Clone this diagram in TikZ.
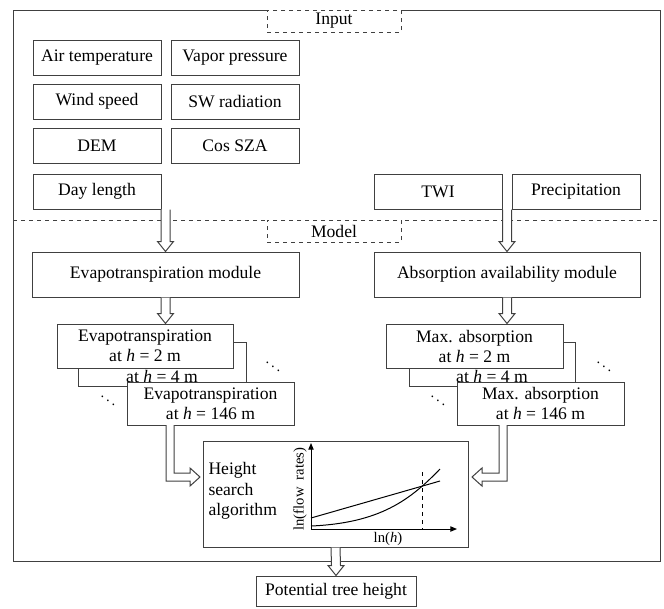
\documentclass[tikz,border=0pt]{standalone}
\usepackage{fontspec}
\setmainfont{Liberation Serif}
\usetikzlibrary{calc,arrows.meta}

\tikzset{every picture/.style={line width=0.75pt}}
\tikzset{
  inbox/.style={draw=black!75, fill=white, inner sep=0pt, minimum width=96pt, minimum height=26.25pt, font=\fontsize{13.2}{15}\selectfont},
  tagbox/.style={draw=black!75, dashed, fill=white, inner sep=0pt, minimum width=100.5pt, minimum height=16.5pt, font=\fontsize{13.2}{15}\selectfont},
  modbox/.style={draw=black!75, fill=white, inner sep=0pt, minimum height=33.75pt, font=\fontsize{13.2}{15}\selectfont},
  stackbox/.style={draw=black!75, fill=white, inner sep=0pt, align=center, minimum height=33pt, font=\fontsize{13.2}{15}\selectfont},
  stacktext/.style={inner sep=0pt, font=\fontsize{13.2}{15}\selectfont},
  blockarrow/.style={draw=black!75, fill=white, line width=0.75pt},
  dotlabel/.style={inner sep=0pt, font=\fontsize{11}{13}\selectfont\boldmath},
}
% hollow arrow pointing down, from #1 to #2 (same x)
\newcommand{\hollowdown}[2]{%
  \draw[blockarrow] ($(#1)+(-4.5,0)$) -- ($(#2)+(-4.5,-10)$) -- ($(#2)+(-8,-10)$) -- (#2) -- ($(#2)+(8,-10)$) -- ($(#2)+(4.5,-10)$) -- ($(#1)+(4.5,0)$);}

\begin{document}
\begin{tikzpicture}[x=0.75pt,y=0.75pt,yscale=-1,xscale=1]
\useasboundingbox (0,0) rectangle (664,608);

%Frame and separator
\draw[draw=black!75] (13,10) rectangle (660,561);
\draw[draw=black!75, dashed] (13,220) -- (660,220);

%Tags
\node[tagbox] (input) at (334,21) {Input};
\node[tagbox] (model) at (334,231) {Model};

%Input boxes
\node[inbox] (airt) at (97,57.5) {Air temperature};
\node[inbox] (vapp) at (235,57.5) {Vapor pressure};
\node[inbox] (wind) at (97,101.5) {Wind speed};
\node[inbox] (swrad) at (235,101.5) {SW radiation};
\node[inbox] (dem) at (97,146) {DEM};
\node[inbox] (cossza) at (235,146) {Cos SZA};
\node[inbox] (dayl) at (97,191.5) {Day length};
\node[inbox] (twi) at (438,191.5) {TWI};
\node[inbox] (prec) at (576,191.5) {Precipitation};

%Modules
\node[modbox, minimum width=200.25pt] (evap) at (165.5,274.5) {Evapotranspiration module};
\node[modbox, minimum width=199.5pt] (absorb) at (507,274.5) {Absorption availability module};

%Evapotranspiration stack
\node[stackbox, minimum width=126pt] (e2) at (162,364) {};
\node[stacktext] (e2txt) at (162,376) {at \textit{h} = 4 m};
\node[stackbox, minimum width=125.25pt, minimum height=32.25pt] (e3) at (210.5,403.5) {Evapotranspiration\\at \textit{h} = 146 m};
\node[stackbox, minimum width=132pt] (e1) at (145,346) {Evapotranspiration\\at \textit{h} = 2 m};
\node[dotlabel] (edots1) at (273,363) {$\ddots$};
\node[dotlabel] (edots2) at (108,397) {$\ddots$};

%Absorption stack
\node[stackbox, minimum width=124.5pt] (a2) at (492,364) {};
\node[stacktext] (a2txt) at (492,376) {at \textit{h} = 4 m};
\node[stackbox, minimum width=125.25pt, minimum height=32.25pt] (a3) at (540.5,403.5) {Max. absorption\\at \textit{h} = 146 m};
\node[stackbox, minimum width=132.75pt] (a1) at (474.5,346) {Max. absorption\\at \textit{h} = 2 m};
\node[dotlabel] (adots1) at (604,363) {$\ddots$};
\node[dotlabel] (adots2) at (438,397) {$\ddots$};

%Search box
\node[draw=black!75, fill=white, minimum width=198.75pt, minimum height=79.5pt, inner sep=0pt] (search) at (335.5,494) {};
\node[anchor=west, align=left, inner sep=0pt, font=\fontsize{13.2}{15.5}\selectfont] (searchtxt) at (208,491) {Height\\search\\algorithm};

%Graph
\coordinate (orig) at (311,529);
\coordinate (xend) at (457,529);
\coordinate (yend) at (311,443);
\draw[-{Triangle[length=5pt,width=4pt]}] (orig) -- (xend);
\draw[-{Triangle[length=5pt,width=4pt]}] (orig) -- (yend);
\draw (311,518) -- (440,481);
\draw (311,526) .. controls (380,523) and (410,500) .. (440,469);
\draw[dashed] (422,472) -- (422,529);
\node[rotate=90, inner sep=0pt, font=\fontsize{11}{13}\selectfont] (ylab) at (300,489) {ln(flow\ \ rates)};
\node[inner sep=0pt, font=\fontsize{11}{13}\selectfont] (xlab) at (388,539) {ln(\textit{h})};

%Output
\node[inbox, minimum width=120pt, minimum height=22.5pt] (pot) at (336,591) {Potential tree height};

%Arrows
\hollowdown{evap.north |- dayl.south}{evap.north}
\hollowdown{absorb.north |- twi.south}{absorb.north}
\hollowdown{evap.south}{evap.south |- e1.north}
\hollowdown{absorb.south}{absorb.south |- a1.north}
\hollowdown{search.south}{pot.north}

\coordinate (lstart) at (170,425);
\coordinate (ltip) at (200,477);
\draw[blockarrow] ($(lstart)+(-4,0)$) |- ($(ltip)+(-10,4)$) -- ($(ltip)+(-10,9)$) -- (ltip) -- ($(ltip)+(-10,-9)$) -- ($(ltip)+(-10,-4)$) -| ($(lstart)+(4,0)$);
\coordinate (rstart) at (503,425);
\coordinate (rtip) at (472,477);
\draw[blockarrow] ($(rstart)+(4,0)$) |- ($(rtip)+(10,4)$) -- ($(rtip)+(10,9)$) -- (rtip) -- ($(rtip)+(10,-9)$) -- ($(rtip)+(10,-4)$) -| ($(rstart)+(-4,0)$);

\end{tikzpicture}
\end{document}
